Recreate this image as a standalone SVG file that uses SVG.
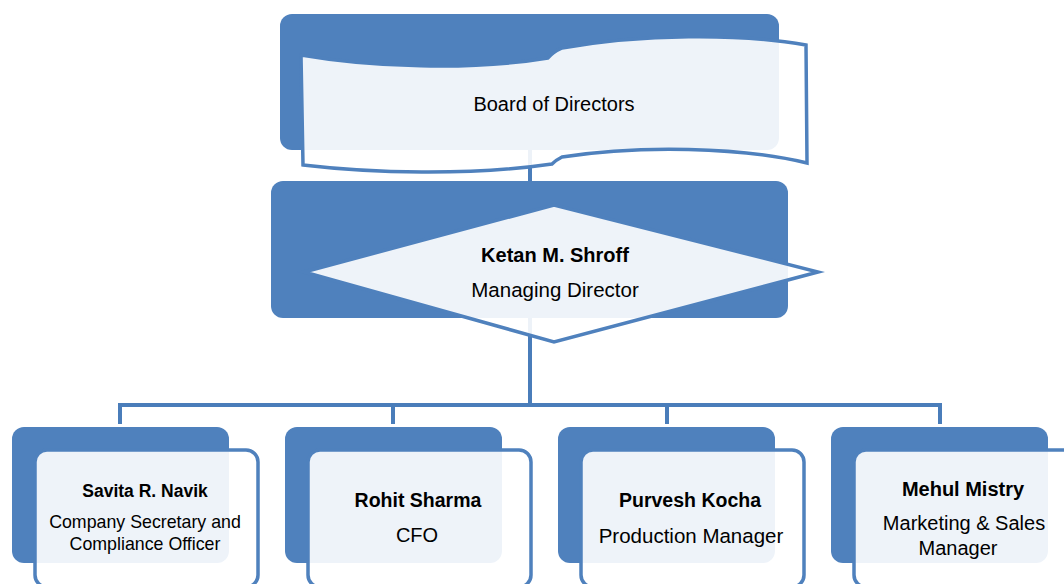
<svg xmlns="http://www.w3.org/2000/svg" width="1064" height="584" viewBox="0 0 1064 584">
<style>
.bg{fill:#4F81BD}
.fr{fill:#FFFFFF;fill-opacity:0.9;stroke:#4F81BD;stroke-width:3.5}
.cn{fill:none;stroke:#4A7DBA;stroke-width:4}
text{font-family:"Liberation Sans",Arial,sans-serif;fill:#000;text-anchor:middle}
.b{font-weight:bold}
</style>
<rect width="1064" height="584" fill="#FFFFFF"/>
<g id="connectors">
<polyline class="cn" points="530,150 530,405"/>
<polyline class="cn" points="120,424 120,405 940,405 940,424"/>
<polyline class="cn" points="393,405 393,424"/>
<polyline class="cn" points="667,405 667,424"/>
</g>
<g id="board">
<rect class="bg" x="280" y="14" width="499" height="136" rx="12"/>
<path class="fr" d="M301,55 C370,67 470,71 548,58 Q553,52 562,48 C640,34 740,33 806,45 L807,163 C740,147 640,145 562,157 Q556,160 552,164 C470,176 370,173 303,165 Z"/>
<text x="554" y="111" font-size="20">Board of Directors</text>
</g>
<g id="md">
<rect class="bg" x="271" y="181" width="517" height="137" rx="12"/>
<path class="fr" d="M304,272 L554,205 L818,272 L554,342 Z"/>
<text class="b" x="555" y="262" font-size="20">Ketan M. Shroff</text>
<text x="555" y="297" font-size="20.5">Managing Director</text>
</g>
<g id="savita">
<rect class="bg" x="12" y="427" width="217" height="136" rx="12"/>
<rect class="fr" x="35" y="450" width="223" height="137" rx="12"/>
<text class="b" x="145" y="497" font-size="17.5">Savita R. Navik</text>
<text x="145" y="528" font-size="17.8">Company Secretary and</text>
<text x="145" y="550" font-size="17.8">Compliance Officer</text>
</g>
<g id="rohit">
<rect class="bg" x="285" y="427" width="217" height="136" rx="12"/>
<rect class="fr" x="308" y="450" width="223" height="137" rx="12"/>
<text class="b" x="418" y="507" font-size="19.5">Rohit Sharma</text>
<text x="417" y="542" font-size="20">CFO</text>
</g>
<g id="purvesh">
<rect class="bg" x="558" y="427" width="217" height="136" rx="12"/>
<rect class="fr" x="581" y="450" width="223" height="137" rx="12"/>
<text class="b" x="690" y="507" font-size="19.5">Purvesh Kocha</text>
<text x="691" y="543" font-size="20.5">Production Manager</text>
</g>
<g id="mehul">
<rect class="bg" x="831" y="427" width="217" height="136" rx="12"/>
<rect class="fr" x="854" y="450" width="223" height="137" rx="12"/>
<text class="b" x="963" y="496" font-size="20">Mehul Mistry</text>
<text x="964" y="530" font-size="20">Marketing &amp; Sales</text>
<text x="958" y="555" font-size="20">Manager</text>
</g>
</svg>
